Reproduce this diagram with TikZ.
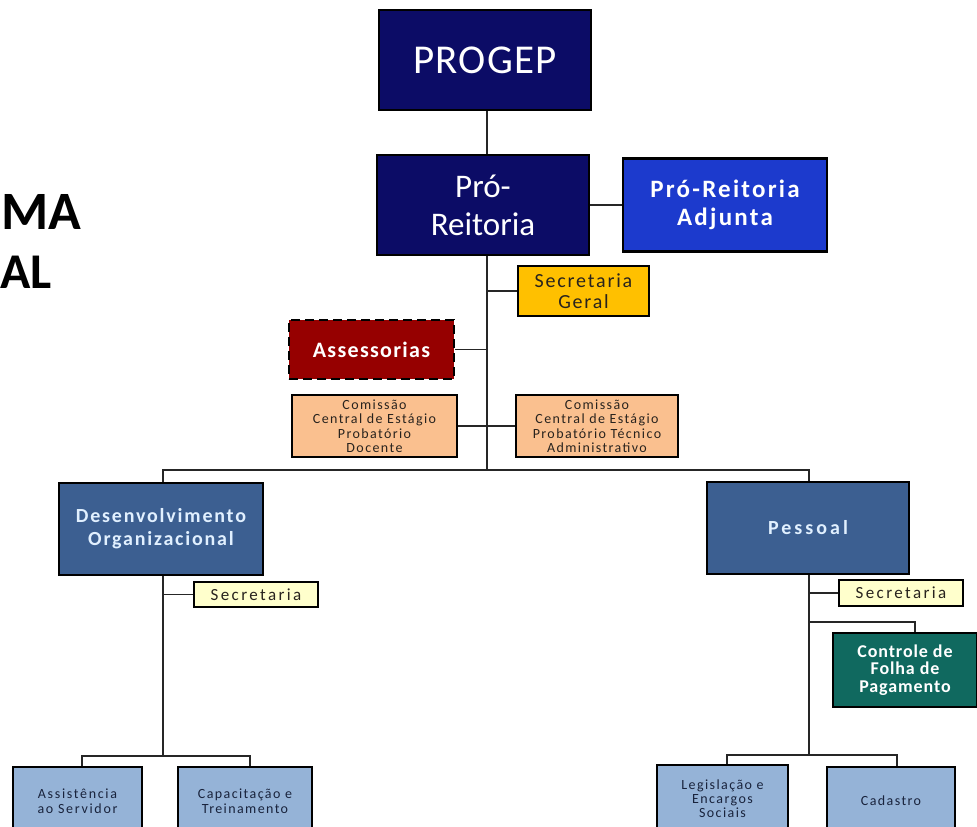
\documentclass[tikz,border=0pt]{standalone}
\usepackage{fontspec}
\setmainfont{Carlito}
\newcommand\fnt[2]{\fontsize{#1}{#2}\selectfont}
\newcommand\lsp[1]{\addfontfeature{LetterSpace=#1}}
\definecolor{navy}{RGB}{12,12,102}
\definecolor{adjblue}{RGB}{28,58,205}
\definecolor{gold}{RGB}{255,192,0}
\definecolor{darkred}{RGB}{150,0,0}
\definecolor{peach}{RGB}{250,192,143}
\definecolor{steel}{RGB}{60,95,145}
\definecolor{paleyel}{RGB}{255,255,204}
\definecolor{teal}{RGB}{16,105,95}
\definecolor{lightsteel}{RGB}{149,179,215}
\definecolor{paletext}{RGB}{225,240,255}
\definecolor{darktext}{RGB}{40,35,30}
\definecolor{navytext}{RGB}{25,35,60}
\begin{document}
\begin{tikzpicture}[x=1pt,y=-1pt,
  box/.style={draw=black,line width=2.8pt,inner sep=0pt,align=center},
  conn/.style={draw=black!85,line width=1.6pt}]
\useasboundingbox (0,0) rectangle (977,827);
\clip (0,0) rectangle (977,827);
\fill[white] (0,0) rectangle (977,827);
% title fragments
\node[anchor=base west,inner sep=0pt,font=\bfseries\fnt{54}{54}] (ma) at (1,229) {MA};
\node[anchor=base west,inner sep=0pt,font=\bfseries\fnt{50}{50}] (al) at (0,288) {AL};
% nodes
\node[box,fill=navy,text=white,minimum width=212,minimum height=100,font=\fnt{41}{44}\lsp{3}] (progep) at (485,60) {PROGEP};
\node[box,fill=navy,text=white,minimum width=212,minimum height=100,font=\fnt{33}{38}] (pr) at (483,205) {Pró-\\Reitoria};
\node[box,fill=adjblue,text=white,minimum width=204,minimum height=93,font=\bfseries\fnt{25}{28}\lsp{9}] (adj) at (725,205) {Pró-Reitoria\\Adjunta};
\node[box,fill=gold,text=darktext,minimum width=131,minimum height=50,font=\fnt{20}{21}\lsp{9}] (secg) at (583.5,291) {Secretaria\\Geral};
\node[box,fill=darkred,text=white,dash pattern=on 9pt off 5pt,minimum width=165,minimum height=59,font=\bfseries\fnt{22}{24}\lsp{6}] (ass) at (371.5,349.5) {Assessorias};
\node[box,fill=peach,text=darktext,minimum width=165,minimum height=62,font=\fnt{14}{14.5}\lsp{10}] (com1) at (374.5,426) {Comissão\\Central de Estágio\\Probatório\\Docente};
\node[box,fill=peach,text=darktext,minimum width=162,minimum height=62,font=\fnt{14}{14.5}\lsp{10}] (com2) at (597,426) {Comissão\\Central de Estágio\\Probatório Técnico\\Administrativo};
\node[box,fill=steel,text=paletext,minimum width=204,minimum height=92,font=\bfseries\fnt{20}{23}\lsp{9}] (do) at (161,529) {Desenvolvimento\\Organizacional};
\node[box,fill=steel,text=paletext,minimum width=202,minimum height=92,font=\bfseries\fnt{20}{23}\lsp{15}] (pes) at (808,528) {Pessoal};
\node[box,fill=paleyel,text=darktext,minimum width=124,minimum height=25,font=\fnt{17}{18}\lsp{14}] (sec1) at (256,594.5) {Secretaria};
\node[box,fill=paleyel,text=darktext,minimum width=124,minimum height=26,font=\fnt{17}{18}\lsp{14}] (sec2) at (901,593) {Secretaria};
\node[box,fill=teal,text=white,minimum width=144,minimum height=74,font=\bfseries\fnt{18}{17.5}\lsp{5}] (ctrl) at (905,670) {Controle de\\Folha de\\Pagamento};
\node[box,fill=lightsteel,text=navytext,minimum width=129,minimum height=68,font=\fnt{14}{15}\lsp{12}] (assist) at (77.5,801) {Assistência\\ao Servidor};
\node[box,fill=lightsteel,text=navytext,minimum width=134,minimum height=68,font=\fnt{14}{15}\lsp{10}] (capac) at (245,801) {Capacitação e\\Treinamento};
\node[box,fill=lightsteel,text=navytext,minimum width=131,minimum height=68,font=\fnt{14}{14}\lsp{10}] (legis) at (722.5,799) {Legislação e\\Encargos\\Sociais};
\node[box,fill=lightsteel,text=navytext,minimum width=128,minimum height=68,font=\fnt{14}{15}\lsp{10}] (cad) at (891,801) {Cadastro};
% connector coordinates
\coordinate (t1) at (487,470);
\coordinate (bl) at (163,470);
\coordinate (br) at (809,470);
\coordinate (bl2) at (163,756);
\coordinate (br2) at (809,755);
\coordinate (la) at (82,756);
\coordinate (lb) at (250,756);
\coordinate (ra) at (727,755);
\coordinate (rb) at (897,755);
\coordinate (cc) at (915,622);
% connectors
\draw[conn] (progep.south -| t1) -- (pr.north -| t1);
\draw[conn] (pr.south -| t1) -- (t1);
\draw[conn] (pr.east) -- (adj.west);
\draw[conn] (secg.west) -- (secg.west -| t1);
\draw[conn] (ass.east) -- (ass.east -| t1);
\draw[conn] (com1.east) -- (com2.west);
\draw[conn] (do.north -| bl) -- (bl) -- (br) -- (pes.north -| br);
\draw[conn] (do.south -| bl) -- (bl2);
\draw[conn] (sec1.west) -- (sec1.west -| bl);
\draw[conn] (assist.north -| la) -- (la) -- (lb) -- (capac.north -| lb);
\draw[conn] (pes.south -| br) -- (br2);
\draw[conn] (sec2.west) -- (sec2.west -| br);
\draw[conn] (cc -| br) -- (cc) -- (ctrl.north -| cc);
\draw[conn] (legis.north -| ra) -- (ra) -- (rb) -- (cad.north -| rb);
\end{tikzpicture}
\end{document}
